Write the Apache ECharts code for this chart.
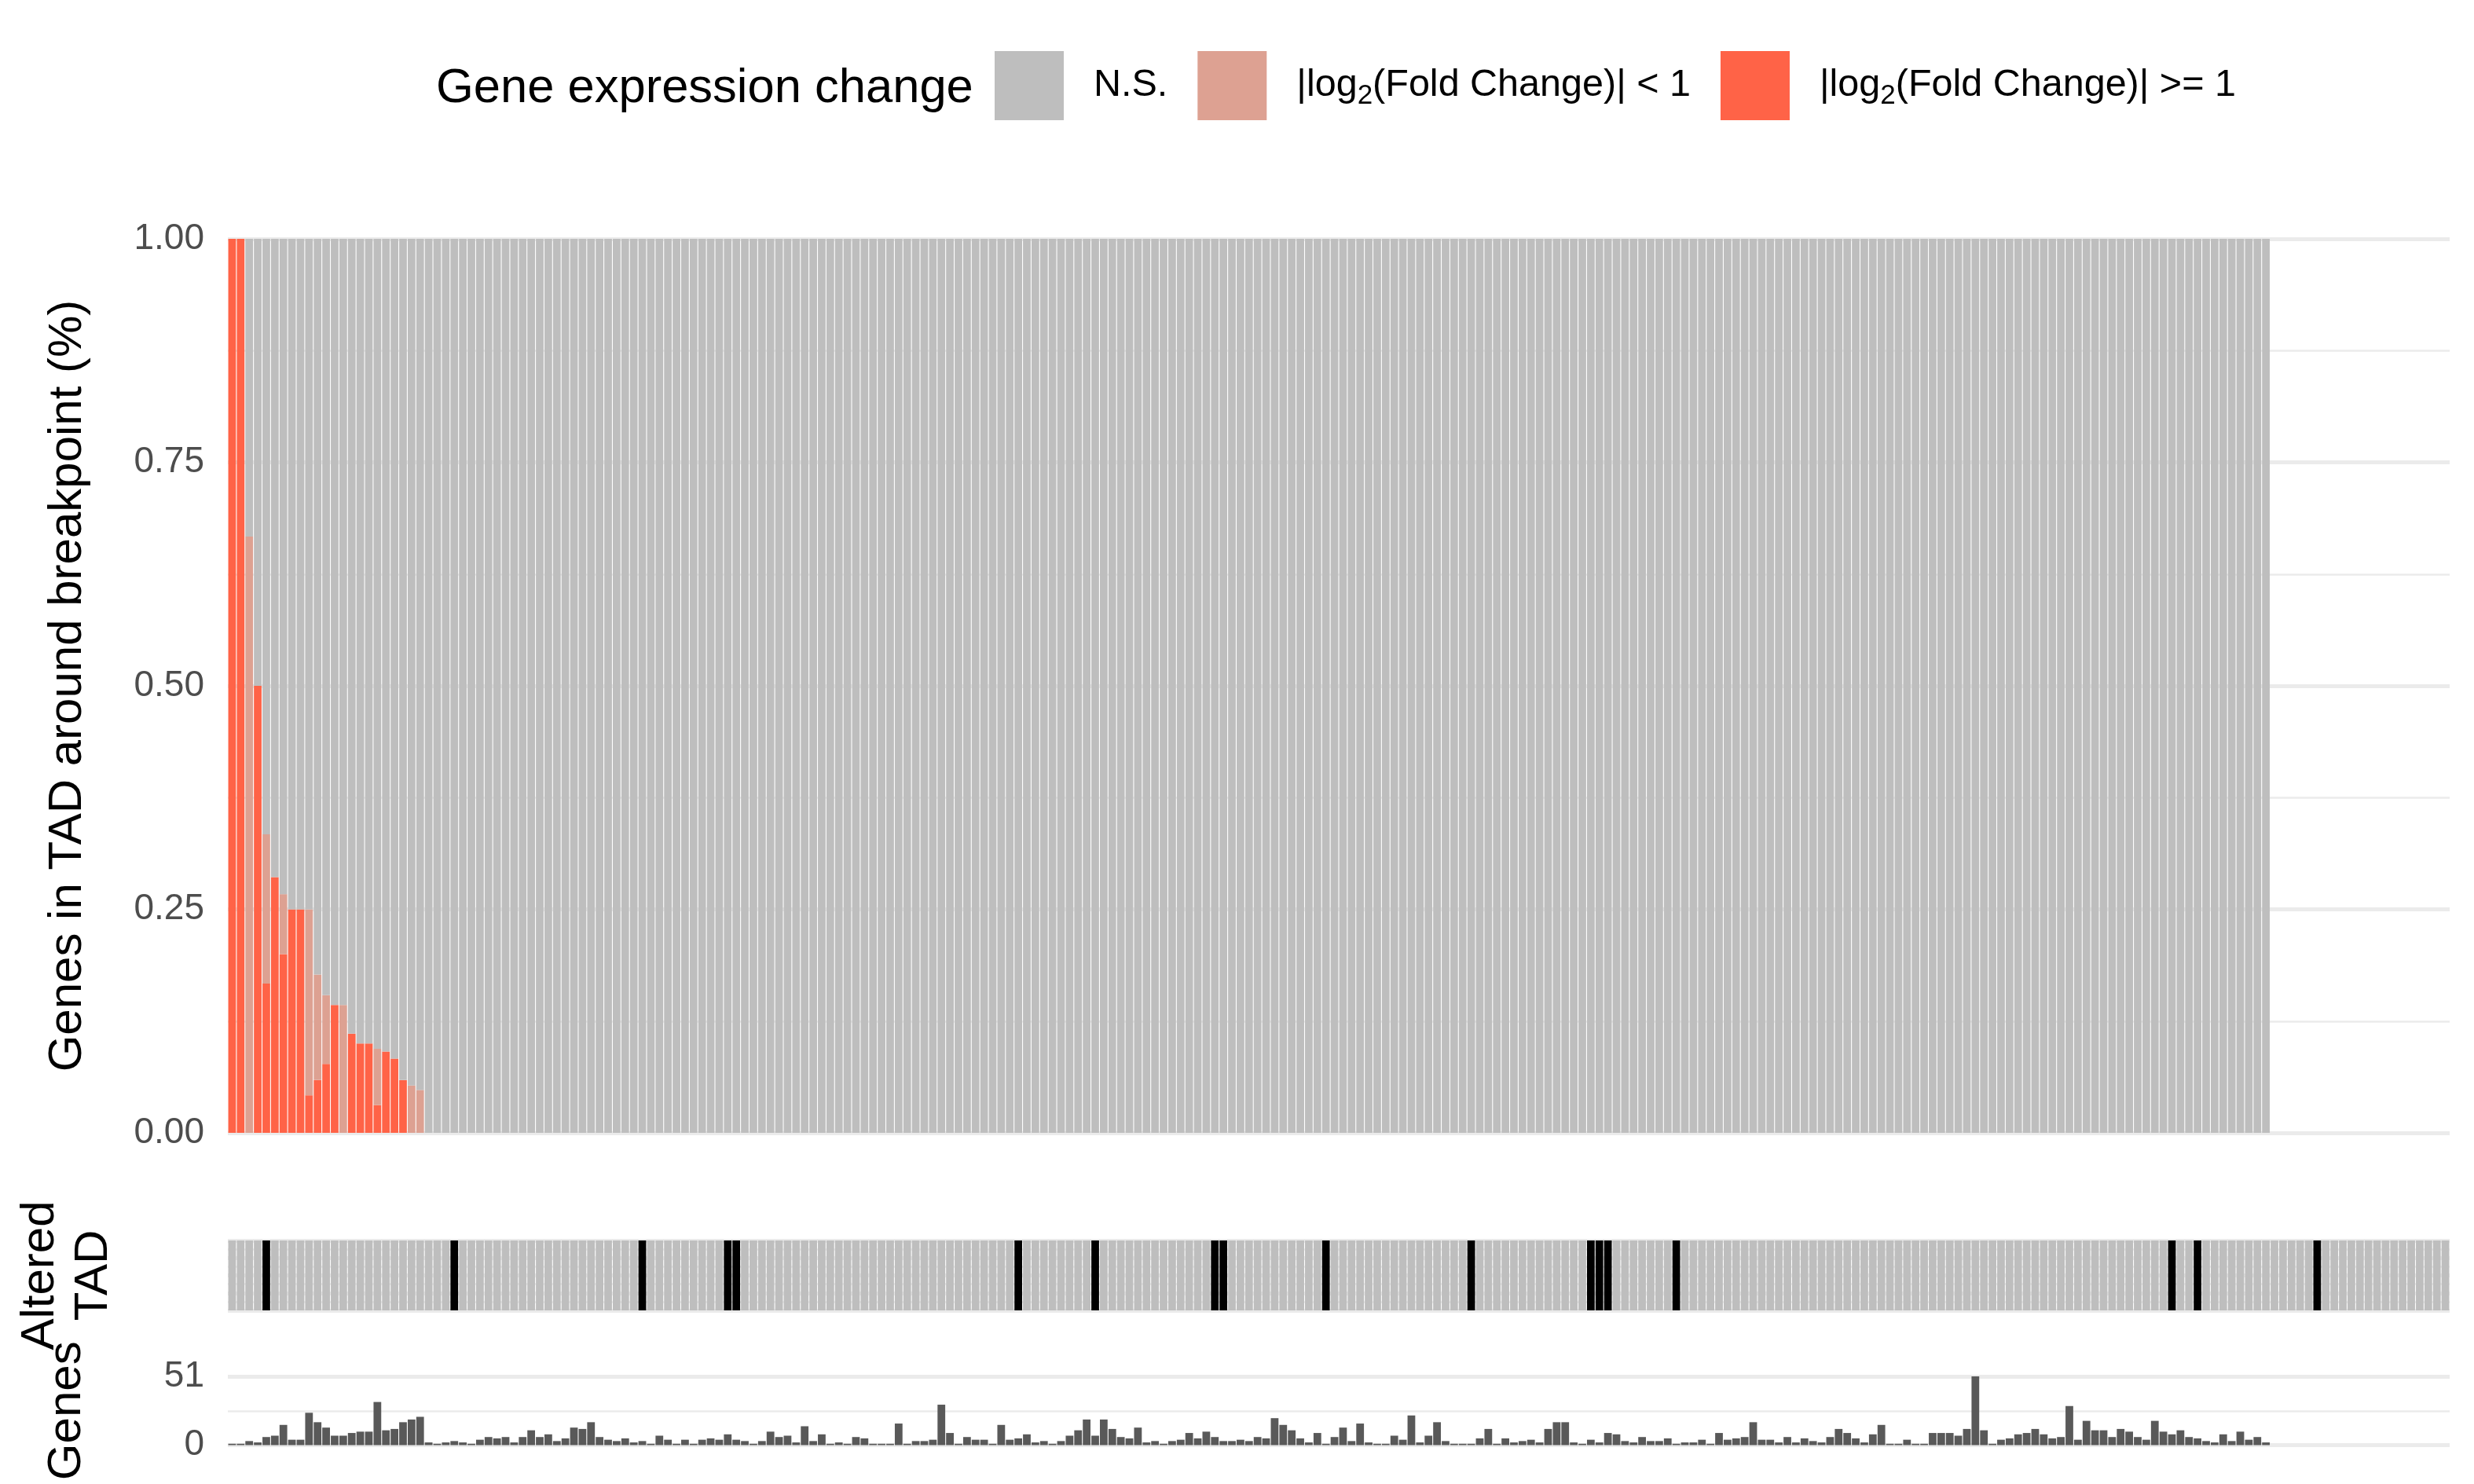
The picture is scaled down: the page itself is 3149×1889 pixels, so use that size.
<!DOCTYPE html>
<html>
<head>
<meta charset="utf-8">
<title>Genes in TAD around breakpoint</title>
<script src="https://cdn.jsdelivr.net/npm/echarts@6/dist/echarts.min.js"></script>
<style>
  html, body { margin: 0; padding: 0; background: #fff; }
  #chart { width: 3149px; height: 1889px; }
</style>
</head>
<body>
<div id="chart"></div>
<script>
// number of TADs on the x axis (only the first 239 carry expression data)
const tadCount = 260;

// fraction of genes with |log2FC| >= 1 (first bars, the rest are 0)
const fcHigh = [1, 1, 0, 0.5, 0.167, 0.286, 0.2, 0.25, 0.25, 0.042,
    0.059, 0.077, 0.143, 0, 0.111, 0.1, 0.1, 0.031, 0.091, 0.083,
    0.059, 0, 0];
// fraction of genes with |log2FC| < 1
const fcLow = [0, 0, 0.667, 0, 0.167, 0, 0.067, 0, 0, 0.208,
    0.118, 0.077, 0, 0.143, 0, 0, 0, 0.063, 0, 0,
    0, 0.053, 0.048];
// fraction of genes not significant
const notSig = [0, 0, 0.333, 0.5, 0.667, 0.714, 0.733, 0.75, 0.75, 0.75,
    0.824, 0.846, 0.857, 0.857, 0.889, 0.9, 0.9, 0.906, 0.909, 0.917,
    0.941, 0.947, 0.952,
    1, 1, 1, 1, 1, 1, 1, 1, 1, 1, 1, 1, 1, 1, 1, 1, 1, 1, 1, 1,
    1, 1, 1, 1, 1, 1, 1, 1, 1, 1, 1, 1, 1, 1, 1, 1, 1, 1, 1, 1,
    1, 1, 1, 1, 1, 1, 1, 1, 1, 1, 1, 1, 1, 1, 1, 1, 1, 1, 1, 1,
    1, 1, 1, 1, 1, 1, 1, 1, 1, 1, 1, 1, 1, 1, 1, 1, 1, 1, 1, 1,
    1, 1, 1, 1, 1, 1, 1, 1, 1, 1, 1, 1, 1, 1, 1, 1, 1, 1, 1, 1,
    1, 1, 1, 1, 1, 1, 1, 1, 1, 1, 1, 1, 1, 1, 1, 1, 1, 1, 1, 1,
    1, 1, 1, 1, 1, 1, 1, 1, 1, 1, 1, 1, 1, 1, 1, 1, 1, 1, 1, 1,
    1, 1, 1, 1, 1, 1, 1, 1, 1, 1, 1, 1, 1, 1, 1, 1, 1, 1, 1, 1,
    1, 1, 1, 1, 1, 1, 1, 1, 1, 1, 1, 1, 1, 1, 1, 1, 1, 1, 1, 1,
    1, 1, 1, 1, 1, 1, 1, 1, 1, 1, 1, 1, 1, 1, 1, 1, 1, 1, 1, 1,
    1, 1, 1, 1, 1, 1, 1, 1, 1, 1, 1, 1, 1, 1, 1, 1];

// genes per TAD
const geneCount = [
    1, 1, 3, 2, 6, 7, 15, 4, 4, 24, 17, 13, 7, 7, 9, 10, 10, 32, 11, 12,
    17, 19, 21, 2, 1, 2, 3, 2, 1, 4, 6, 5, 6, 2, 6, 11, 6, 8, 3, 5,
    13, 12, 17, 6, 4, 3, 5, 2, 3, 1, 7, 4, 1, 4, 1, 4, 5, 4, 8, 4,
    3, 1, 3, 10,
    6, 7, 2, 14, 3, 8, 1, 2, 1, 6, 5, 1, 1, 1, 16, 1, 3, 3, 4, 30,
    9, 1, 6, 4, 4, 1, 15, 4, 5, 8, 2, 3, 1, 3, 7, 11, 19, 7, 19, 12,
    6, 5, 13, 2, 3, 1, 3, 4, 9, 5, 10, 6, 3, 3, 4, 3, 6, 5, 20, 15,
    11, 5, 2, 9,
    1, 6, 13, 3, 16, 2, 1, 1, 7, 4, 22, 2, 7, 17, 3, 1, 1, 1, 5, 12,
    1, 5, 2, 3, 4, 2, 12, 17, 17, 2, 1, 4, 2, 9, 8, 3, 2, 6, 3, 3,
    5, 1, 2, 2, 4, 1, 9, 4, 5, 6, 17, 4, 4, 2, 6, 2, 5, 3, 2, 6,
    12, 9, 5, 2, 8,
    15, 1, 1, 4, 1, 1, 9, 9, 9, 7, 12, 51, 11, 1, 4, 5, 8, 9, 12, 8,
    5, 6, 29, 4, 18, 11, 11, 6, 12, 10, 6, 4, 18, 10, 8, 11, 6, 5, 3, 2,
    8, 3, 10, 4, 6, 2
];

// positions (0-based) of TADs that are altered
const alteredIdx = [4, 26, 48, 58, 59, 92, 101, 115, 116, 128, 145,
    159, 160, 161, 169, 227, 230, 244];

const legendNames = ['N.S.', '|log2(Fold Change)| < 1', '|log2(Fold Change)| >= 1'];
const colors = { ns: '#BEBEBE', low: '#DDA192', high: '#FF6347' };

const FONT = "'Liberation Sans', Arial, sans-serif";

const tadNames = [];
for (let i = 0; i < tadCount; i++) tadNames.push('TAD' + (i + 1));

const nBars = notSig.length;
const highData = [], lowData = [];
for (let i = 0; i < nBars; i++) {
    highData.push(fcHigh[i] !== undefined ? fcHigh[i] : 0);
    lowData.push(fcLow[i] !== undefined ? fcLow[i] : 0);
}

const stripData = tadNames.map((n, i) => ({
    value: 1,
    itemStyle: { color: alteredIdx.includes(i) ? '#000000' : '#BEBEBE' }
}));

const gridLine = { show: true, lineStyle: { color: '#EBEBEB', width: 5 } };
const minorLine = { show: true, lineStyle: { color: '#EBEBEB', width: 2.5 } };
const tickLabel = { fontFamily: FONT, fontSize: 46, color: '#4D4D4D', margin: 30, padding: [9, 0, 0, 0] };
const axisName = { fontFamily: FONT, fontSize: 60, color: '#000000' };

const chart = echarts.init(document.getElementById('chart'), null, { renderer: 'canvas' });

const option = {
    animation: false,
    backgroundColor: '#ffffff',
    title: {
        text: 'Gene expression change',
        left: 550,
        top: 77,
        textStyle: { fontFamily: FONT, fontSize: 61.5, fontWeight: 'normal', color: '#000000' }
    },
    legend: {
        data: legendNames,
        left: 1261,
        top: 60,
        orient: 'horizontal',
        itemWidth: 88,
        itemHeight: 88,
        itemGap: 38,
        icon: 'rect',
        formatter: function (name) {
            return name.replace('log2', 'log{sub|2}');
        },
        textStyle: {
            fontFamily: FONT,
            fontSize: 48.5,
            color: '#000000',
            padding: [0, 0, 0, 33],
            rich: {
                sub: { fontFamily: FONT, fontSize: 35, verticalAlign: 'bottom', padding: [26, 0, 0, 0] }
            }
        }
    },
    grid: [
        { left: 290, right: 31, top: 304, height: 1138 },
        { left: 290, right: 31, top: 1579, height: 89 },
        { left: 290, right: 31, top: 1752, height: 87.5 }
    ],
    xAxis: [0, 1, 2].map(g => ({
        type: 'category',
        gridIndex: g,
        data: tadNames,
        show: false,
        boundaryGap: true
    })),
    yAxis: [
        {
            type: 'value', gridIndex: 0, min: 0, max: 1, interval: 0.25,
            name: 'Genes in TAD around breakpoint (%)',
            nameLocation: 'middle', nameRotate: 90, nameGap: 174,
            nameTextStyle: axisName,
            axisLine: { show: false }, axisTick: { show: false },
            axisLabel: Object.assign({ formatter: v => v.toFixed(2) }, tickLabel),
            splitLine: gridLine,
            minorTick: { show: false, splitNumber: 2 },
            minorSplitLine: minorLine
        },
        {
            type: 'value', gridIndex: 1, min: 0, max: 1, interval: 0.25,
            name: 'Altered\nTAD',
            nameLocation: 'middle', nameRotate: 90, nameGap: 137,
            nameTextStyle: Object.assign({ lineHeight: 68 }, axisName),
            axisLine: { show: false }, axisTick: { show: false },
            axisLabel: { show: false },
            splitLine: gridLine,
            minorTick: { show: false, splitNumber: 2 },
            minorSplitLine: minorLine
        },
        {
            type: 'value', gridIndex: 2, min: 0, max: 51, interval: 51,
            name: 'Genes',
            nameLocation: 'middle', nameRotate: 90, nameGap: 175,
            nameTextStyle: axisName,
            axisLine: { show: false }, axisTick: { show: false },
            axisLabel: tickLabel,
            splitLine: gridLine,
            minorTick: { show: false, splitNumber: 2 },
            minorSplitLine: minorLine
        }
    ],
    series: [
        {
            name: legendNames[2], type: 'bar', stack: 'frac',
            xAxisIndex: 0, yAxisIndex: 0, barWidth: '90%',
            itemStyle: { color: colors.high }, data: highData
        },
        {
            name: legendNames[1], type: 'bar', stack: 'frac',
            xAxisIndex: 0, yAxisIndex: 0, barWidth: '90%',
            itemStyle: { color: colors.low }, data: lowData
        },
        {
            name: legendNames[0], type: 'bar', stack: 'frac',
            xAxisIndex: 0, yAxisIndex: 0, barWidth: '90%',
            itemStyle: { color: colors.ns }, data: notSig
        },
        {
            name: 'Altered TAD', type: 'bar',
            xAxisIndex: 1, yAxisIndex: 1, barWidth: '90%',
            data: stripData
        },
        {
            name: 'Genes', type: 'bar',
            xAxisIndex: 2, yAxisIndex: 2, barWidth: '90%',
            itemStyle: { color: '#595959' }, data: geneCount
        }
    ]
};

chart.setOption(option);
</script>
</body>
</html>
